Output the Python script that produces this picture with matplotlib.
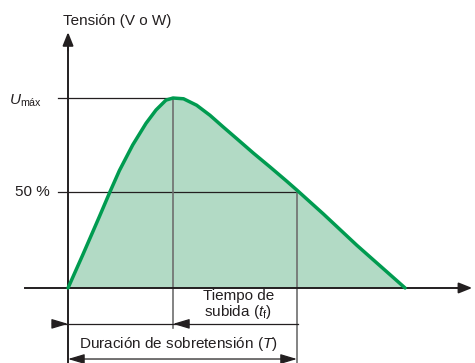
import matplotlib
matplotlib.use('Agg')
from matplotlib import pyplot as plt

plt.rcParams['font.family'] = ['Liberation Sans', 'DejaVu Sans']
plt.rcParams['mathtext.fontset'] = 'custom'
plt.rcParams['mathtext.rm'] = 'Liberation Sans'
plt.rcParams['mathtext.it'] = 'Liberation Sans:italic'

# surge waveform, time in units of the rise time t_f, voltage as fraction of U_max
t_wave = [0.0, 0.140, 0.298, 0.40, 0.489, 0.616, 0.743, 0.838, 0.933, 1.0,
          1.10, 1.225, 1.352, 1.479, 1.607, 1.765, 1.924, 2.083, 2.18,
          2.431, 2.75, 3.067, 3.21]
v_wave = [0.0, 0.174, 0.375, 0.507, 0.618, 0.753, 0.867, 0.937, 0.989, 1.0,
          0.996, 0.962, 0.909, 0.847, 0.786, 0.710, 0.637, 0.562, 0.515,
          0.390, 0.225, 0.070, 0.0]

t_rise = 1.0      # tiempo de subida
t_dur = 2.18      # duracion de sobretension (T)
v_half = 0.505

green = '#009B50'
fill = '#B2DAC5'
ink = '#231F20'
grey = '#6E6E6E'

fig = plt.figure(figsize=(4.75, 3.63), dpi=100)
ax = fig.add_axes([0, 0, 1, 1])
ax.set_xlim(-0.648, 3.876)
ax.set_ylim(-0.395, 1.516)
ax.axis('off')

# shaded area under the wave
ax.fill_between(t_wave, v_wave, 0, color=fill, lw=0, zorder=1)

# reference lines
ax.plot([-0.095, t_rise], [1, 1], color=ink, lw=0.9, zorder=2)
ax.plot([-0.095, t_dur], [v_half, v_half], color=ink, lw=0.9, zorder=2)
ax.plot([t_rise, t_rise], [1, -0.21], color=grey, lw=1.2, zorder=2)
ax.plot([t_dur, t_dur], [v_half, -0.395], color=grey, lw=1.2, zorder=2)

# axes with arrows
axis_head = '-|>,head_length=0.4,head_width=0.16'
ax.plot([0, 0], [-0.395, 1.30], color=ink, lw=1.4, zorder=3)
ax.annotate('', xy=(0, 1.347), xytext=(0, 1.25),
            arrowprops=dict(arrowstyle=axis_head, color=ink, lw=1.4, mutation_scale=20,
                            shrinkA=0, shrinkB=0))
ax.plot([-0.41, 3.78], [0, 0], color=ink, lw=1.4, zorder=3)
ax.annotate('', xy=(3.85, 0), xytext=(3.70, 0),
            arrowprops=dict(arrowstyle=axis_head, color=ink, lw=1.4, mutation_scale=20,
                            shrinkA=0, shrinkB=0))

# the wave itself
ax.plot(t_wave, v_wave, color=green, lw=2.5, solid_joinstyle='round',
        solid_capstyle='round', zorder=4)

# dimension for rise time
dim_head = '-|>,head_length=0.4,head_width=0.12'
y_tf = -0.189
ax.plot([-0.143, t_dur + 0.01], [y_tf, y_tf], color=ink, lw=0.9)
ax.annotate('', xy=(0, y_tf), xytext=(-0.15, y_tf),
            arrowprops=dict(arrowstyle=dim_head, color=ink, lw=0.9, mutation_scale=25,
                            shrinkA=0, shrinkB=0))
ax.annotate('', xy=(t_rise, y_tf), xytext=(t_rise + 0.15, y_tf),
            arrowprops=dict(arrowstyle=dim_head, color=ink, lw=0.9, mutation_scale=25,
                            shrinkA=0, shrinkB=0))

# dimension for total duration
y_T = -0.374
ax.annotate('', xy=(0, y_T), xytext=(t_dur, y_T),
            arrowprops=dict(arrowstyle='<|-|>,head_length=0.4,head_width=0.12', color=ink,
                            lw=0.9, mutation_scale=25, shrinkA=0, shrinkB=0))

# labels
fs = 11
ax.text(-0.048, 1.405, 'Tensión (V o W)', fontsize=fs, color=ink, ha='left', va='center')
ax.text(-0.245, 0.985, r'$U_{\mathrm{máx}}$', fontsize=fs, color=ink, ha='right', va='center')
ax.text(-0.171, v_half, '50 %', fontsize=fs, color=ink, ha='right', va='center')
ax.text(1.62, -0.092, 'Tiempo de\nsubida ($t_{\\mathrm{f}}$)', fontsize=fs, color=ink,
        ha='center', va='center', linespacing=1.0)
ax.text(1.05, -0.295, 'Duración de sobretensión ($T$)', fontsize=fs, color=ink,
        ha='center', va='center')

plt.savefig('out.png', dpi=100)
